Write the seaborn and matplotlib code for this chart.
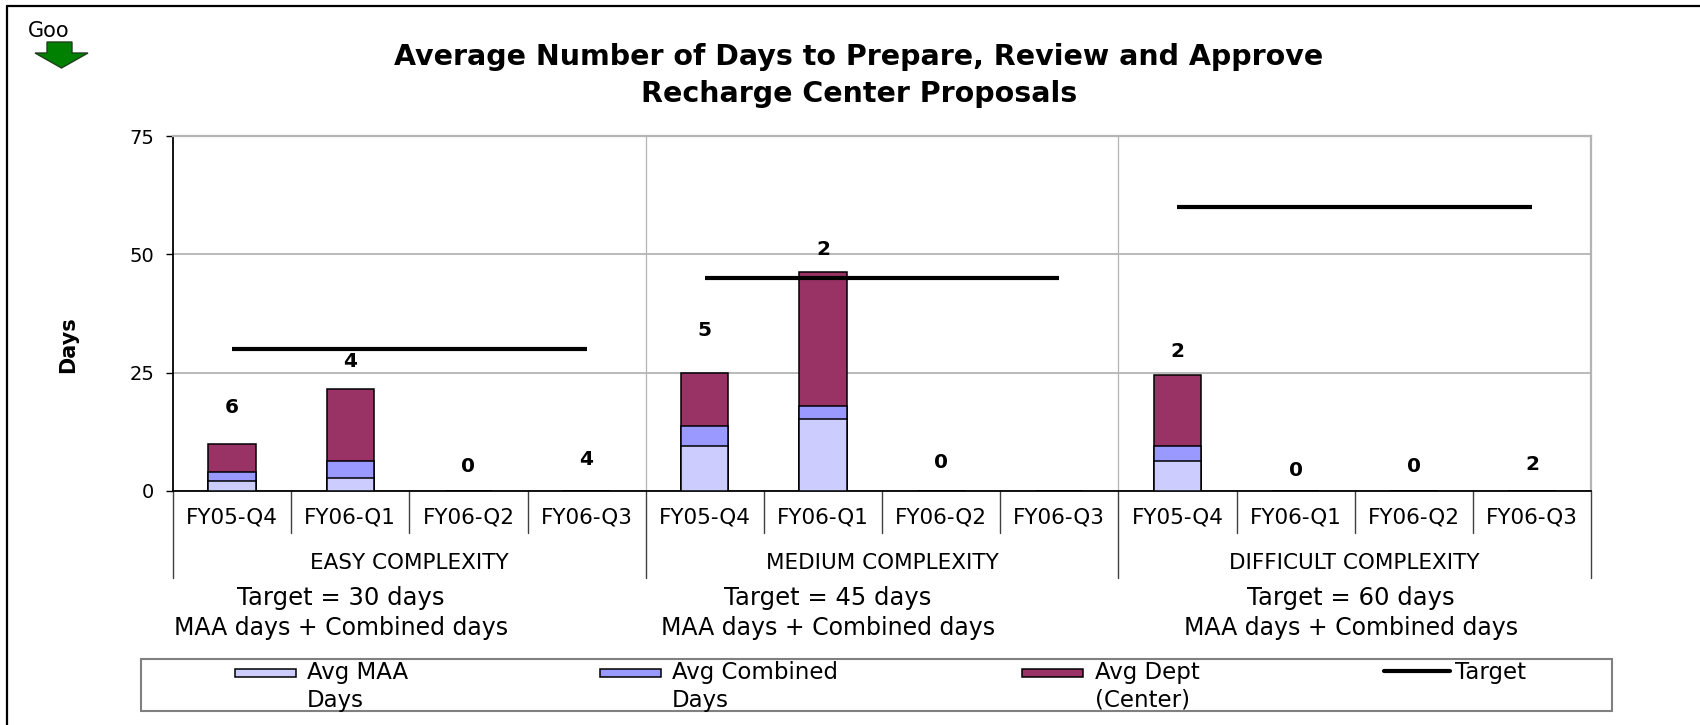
import numpy as np
import pandas as pd
import matplotlib
matplotlib.use("Agg")
import matplotlib.pyplot as plt
import matplotlib.transforms as mtransforms
from matplotlib.patches import Rectangle, Polygon
from matplotlib.lines import Line2D
import seaborn as sns

# ---------------- data ----------------
quarters = ["FY05-Q4", "FY06-Q1", "FY06-Q2", "FY06-Q3"]
groups = ["EASY COMPLEXITY", "MEDIUM COMPLEXITY", "DIFFICULT COMPLEXITY"]
avg_maa = [2.2, 2.7, 0, 0, 9.5, 15.3, 0, 0, 6.4, 0, 0, 0]
avg_combined = [1.9, 3.7, 0, 0, 4.2, 2.7, 0, 0, 3.2, 0, 0, 0]
avg_dept = [5.8, 15.1, 0, 0, 11.3, 28.2, 0, 0, 15.0, 0, 0, 0]
targets = [30, 45, 60]
target_notes = ["Target = 30 days", "Target = 45 days", "Target = 60 days"]
target_sub = "MAA days + Combined days"
proposal_counts = ["6", "4", "0", "4", "5", "2", "0", "", "2", "0", "0", "2"]
count_label_y = [17.6, 27.4, 5.1, 6.6, 33.9, 51.0, 6.0, np.nan, 29.4, 4.3, 5.2, 5.5]
y_ticks = [0, 25, 50, 75]
legend_labels = [("Avg MAA", "Days"), ("Avg Combined", "Days"), ("Avg Dept", "(Center)"), ("Target", "")]
colors = {"maa": "#CCCCFF", "comb": "#9999FF", "dept": "#993366"}

W, H = 1700, 725


def fx(x):
    return x / W


def fy(y):
    return 1 - y / H


sns.set_style("white")
plt.rcParams["font.family"] = ["DejaVu Sans"]
plt.rcParams["text.color"] = "black"
plt.rcParams["axes.labelcolor"] = "black"
plt.rcParams["xtick.color"] = "black"
plt.rcParams["ytick.color"] = "black"

fig = plt.figure(figsize=(W / 100, H / 100), dpi=100)
AX_L, AX_R, AX_T, AX_B = 173, 1591, 136, 491
ax = fig.add_axes([fx(AX_L), fy(AX_B), (AX_R - AX_L) / W, (AX_B - AX_T) / H])

n = len(groups) * len(quarters)
df = pd.DataFrame({"slot": range(n), "maa": avg_maa, "comb": avg_combined, "dept": avg_dept})
df["maa_comb"] = df["maa"] + df["comb"]
df["total"] = df["maa_comb"] + df["dept"]

for col, c in [("total", colors["dept"]), ("maa_comb", colors["comb"]), ("maa", colors["maa"])]:
    sns.barplot(data=df, x="slot", y=col, color=c, saturation=1, edgecolor="black",
                linewidth=1.1, width=0.4, ax=ax, zorder=3)

for g, t in enumerate(targets):
    xs = [g * len(quarters), g * len(quarters) + len(quarters) - 1]
    sns.lineplot(x=xs, y=[t, t], color="black", linewidth=3, ax=ax, zorder=4,
                 solid_capstyle="butt")

for i, (c, yv) in enumerate(zip(proposal_counts, count_label_y)):
    if c:
        ax.text(i, yv, c, ha="center", va="center", fontsize=14.5, fontweight="bold",
                color="black", zorder=5)

ax.set_xlim(-0.5, n - 0.5)
ax.set_ylim(0, 75)
ax.set_xticks([])
ax.set_xlabel("")
ax.set_yticks(y_ticks)
ax.set_yticklabels([str(v) for v in y_ticks])
ax.tick_params(axis="y", left=True, direction="out", length=5, width=1, pad=8.6,
               labelsize=14, color="black", labelcolor="black")
ax.yaxis.grid(True, color="#b4b4b4", linewidth=1.3)
ax.set_axisbelow(True)
for g in range(1, len(groups)):
    ax.axvline(g * len(quarters) - 0.5, color="#b4b4b4", linewidth=0.9, zorder=1)

for s in ["left", "bottom"]:
    ax.spines[s].set_color("black")
    ax.spines[s].set_linewidth(1.3)
for s in ["top", "right"]:
    ax.spines[s].set_color("#b4b4b4")
    ax.spines[s].set_linewidth(1.6)

ax.set_ylabel("Days", fontsize=15, fontweight="bold", color="black")
ax.yaxis.set_label_coords((68 - AX_L) / (AX_R - AX_L), (AX_B - 345) / (AX_B - AX_T))
ax.yaxis.label.set_va("center")

# multi-level category axis
trans = mtransforms.blended_transform_factory(ax.transData, ax.transAxes)
ah = AX_B - AX_T
for i in range(n):
    ax.text(i, (AX_B - 517) / ah, quarters[i % len(quarters)], transform=trans,
            ha="center", va="center", fontsize=15.5, clip_on=False)
for gi, gname in enumerate(groups):
    ax.text(gi * len(quarters) + (len(quarters) - 1) / 2, (AX_B - 563) / ah, gname,
            transform=trans, ha="center", va="center", fontsize=15.5, clip_on=False)
for b in range(n + 1):
    xb = b - 0.5
    y_end = 578 if b % len(quarters) == 0 else 533
    ax.add_line(Line2D([xb, xb], [0, (AX_B - y_end) / ah], transform=trans,
                       color="#404040", linewidth=1, clip_on=False))

# target notes
for xc, note in zip([341, 828, 1351], target_notes):
    fig.text(fx(xc), fy(598), note, ha="center", va="center", fontsize=17.5)
    fig.text(fx(xc), fy(628), target_sub, ha="center", va="center", fontsize=17)

# title
fig.text(fx(859), fy(75.5),
         "Average Number of Days to Prepare, Review and Approve\nRecharge Center Proposals",
         ha="center", va="center", fontsize=20.5, fontweight="bold", linespacing=1.42)

# legend (manual, Excel-like)
fig.add_artist(Rectangle((fx(141), fy(711)), (1612 - 141) / W, (711 - 659) / H,
                         transform=fig.transFigure, fill=False, edgecolor="#808080", linewidth=1.5))
patch_x = [235, 600, 1022]
text_x = [307, 672, 1095, 1455]
for k, key in enumerate(["maa", "comb", "dept"]):
    fig.add_artist(Rectangle((fx(patch_x[k]), fy(677)), 61 / W, 8 / H, transform=fig.transFigure,
                             facecolor=colors[key], edgecolor="black", linewidth=1.1))
fig.add_artist(Line2D([fx(1384), fx(1450)], [fy(671), fy(671)], transform=fig.transFigure,
                      color="black", linewidth=3))
for k, (l1, l2) in enumerate(legend_labels):
    fig.text(fx(text_x[k]), fy(672), l1, ha="left", va="center", fontsize=16.5)
    if l2:
        fig.text(fx(text_x[k]), fy(700), l2, ha="left", va="center", fontsize=16.5)

# frame lines
fig.add_artist(Line2D([fx(7), 1], [fy(6), fy(6)], transform=fig.transFigure, color="black", linewidth=1.6))
fig.add_artist(Line2D([fx(7), fx(7)], [fy(6), 0], transform=fig.transFigure, color="black", linewidth=1.6))

# "Goo" marker with green arrow
fig.text(fx(28), fy(31), "Goo", ha="left", va="center", fontsize=15)
arrow_px = [(47, 42), (72, 42), (72, 53), (88, 53), (61.5, 68), (35, 53), (47, 53)]
fig.add_artist(Polygon([(fx(x), fy(y)) for x, y in arrow_px], closed=True, transform=fig.transFigure,
                       facecolor="#008000", edgecolor="#1f3f1f", linewidth=1))

fig.savefig("out.png", dpi=100)
